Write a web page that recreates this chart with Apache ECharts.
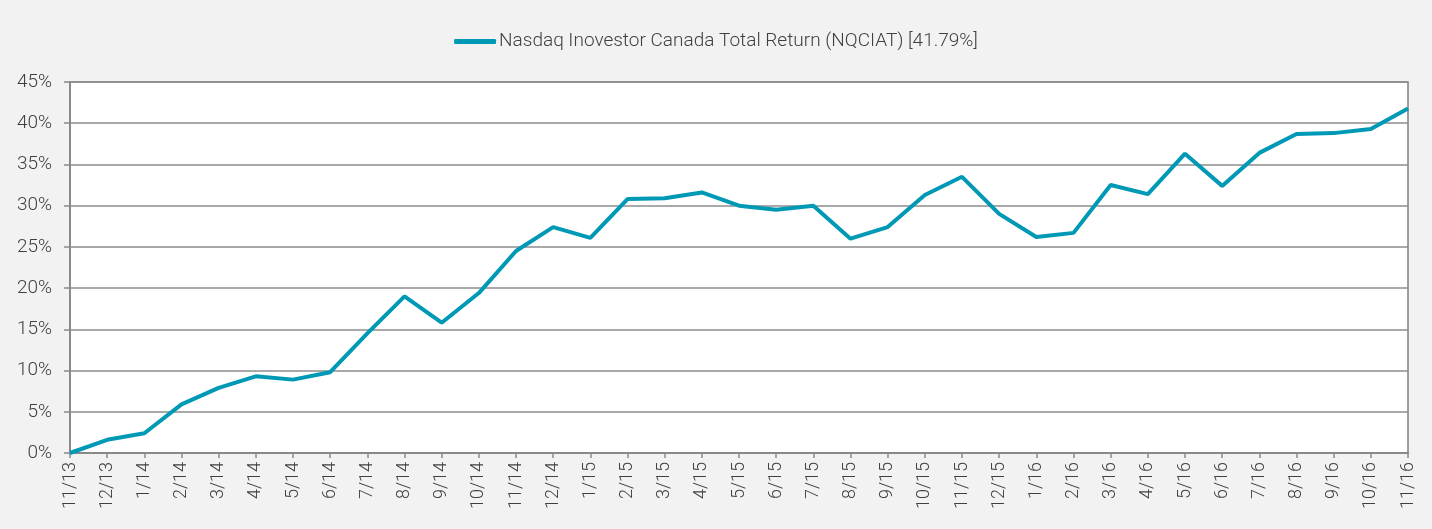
<!DOCTYPE html>
<html>
<head>
<meta charset="utf-8">
<script src="https://cdn.jsdelivr.net/npm/echarts@6/dist/echarts.min.js"></script>
<style>
html,body{margin:0;padding:0;background:#f2f2f2;}
#c{width:1432px;height:529px;}
</style>
</head>
<body>
<div id="c"></div>
<script>
const categories = ["11/13","12/13","1/14","2/14","3/14","4/14","5/14","6/14","7/14","8/14","9/14","10/14","11/14","12/14","1/15","2/15","3/15","4/15","5/15","6/15","7/15","8/15","9/15","10/15","11/15","12/15","1/16","2/16","3/16","4/16","5/16","6/16","7/16","8/16","9/16","10/16","11/16"];
const seriesName = "Nasdaq Inovestor Canada Total Return (NQCIAT) [41.79%]";
const values = [0,1.6,2.4,5.9,7.9,9.3,8.9,9.8,14.5,19.0,15.8,19.4,24.5,27.4,26.1,30.8,30.9,31.6,30.0,29.5,30.0,26.0,27.4,31.3,33.5,29.0,26.2,26.7,32.5,31.4,36.3,32.4,36.4,38.7,38.8,39.3,41.79];
const yTicks = [0,5,10,15,20,25,30,35,40,45];

const chart = echarts.init(document.getElementById('c'));
chart.setOption({
  backgroundColor: '#f2f2f2',
  animation: false,
  textStyle: { fontFamily: 'Roboto' },
  legend: {
    top: 27,
    left: 'center',
    icon: 'roundRect',
    itemWidth: 42,
    itemHeight: 5,
    itemGap: 4,
    textStyle: { fontSize: 19, color: '#404040', fontFamily: 'Roboto', fontWeight: 300, padding: [0, 0, 0, -2] },
    data: [seriesName]
  },
  grid: {
    left: 70, right: 24, top: 82, bottom: 76,
    show: true, backgroundColor: '#ffffff', borderColor: '#7f7f7f', borderWidth: 1.5
  },
  xAxis: {
    type: 'category',
    data: categories,
    boundaryGap: false,
    axisLine: { lineStyle: { color: '#898989', width: 2 } },
    axisTick: { show: true, length: 5, lineStyle: { color: '#898989', width: 1.5 } },
    axisLabel: { rotate: 90, fontSize: 18, color: '#404040', margin: 9, interval: 0, fontWeight: 300 }
  },
  yAxis: {
    type: 'value',
    min: yTicks[0], max: yTicks[yTicks.length - 1], interval: 5,
    axisLine: { show: true, lineStyle: { color: '#898989', width: 2 } },
    axisTick: { show: true, length: 6, lineStyle: { color: '#898989', width: 1.5 } },
    splitLine: { lineStyle: { color: '#8c8c8c', width: 1.5 } },
    axisLabel: { formatter: '{value}%', fontSize: 19, color: '#404040', margin: 18, fontWeight: 300 }
  },
  series: [{
    name: seriesName,
    type: 'line',
    data: values,
    symbol: 'none',
    itemStyle: { color: '#0099b5' },
    lineStyle: { color: '#0099b5', width: 4 }
  }]
});
</script>
</body>
</html>
